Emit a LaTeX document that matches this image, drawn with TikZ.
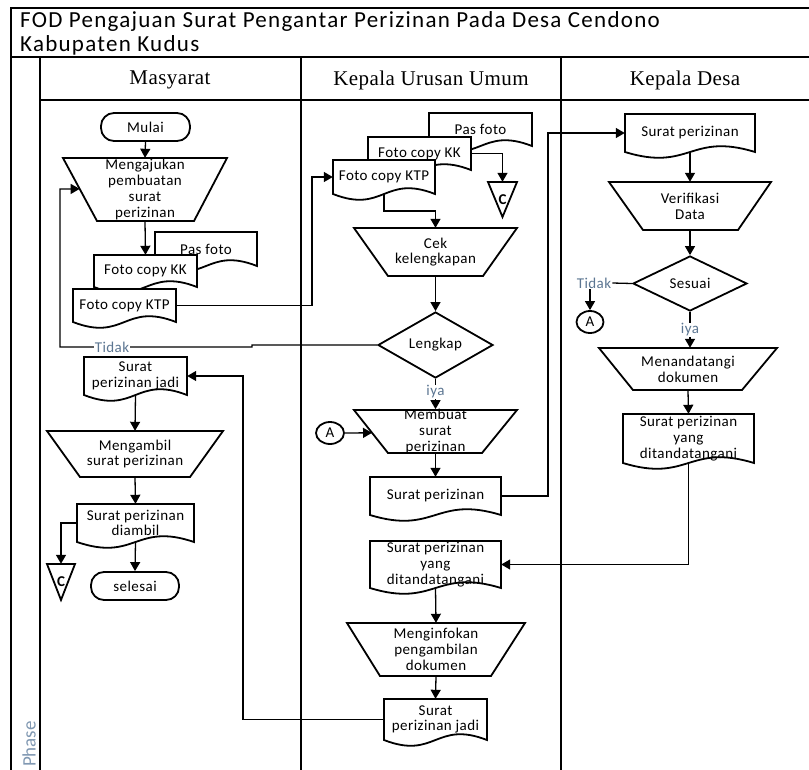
\documentclass[tikz,border=0pt]{standalone}
\usepackage{fontspec}
\setmainfont{Carlito}
\newfontfamily\titlefont[LetterSpace=5.5]{Carlito}
\newfontfamily\boxfont[LetterSpace=3]{Carlito}
\newfontfamily\lanefont[LetterSpace=2]{Liberation Serif}
\usetikzlibrary{arrows.meta,shapes.geometric,calc}

\definecolor{labelblue}{HTML}{5C7692}
\definecolor{phaseblue}{HTML}{8098B2}

\tikzset{
  frame/.style={line width=1.5pt, draw=black},
  shapeline/.style={line width=1.8pt, draw=black, fill=white},
  txt/.style={font=\boxfont\fontsize{15}{15.7}\selectfont, align=center, inner sep=0pt},
  conn/.style={line width=1.3pt, -{Triangle[length=9pt,width=10pt]}},
  plain/.style={line width=1.3pt},
  decision/.style={diamond, shapeline, txt},
  terminal/.style={rectangle, rounded corners=13pt, shapeline, txt},
  joiner/.style={ellipse, shapeline, txt},
  lanehead/.style={font=\lanefont\fontsize{21}{23}\selectfont, inner sep=0pt},
  titletext/.style={anchor=base west, font=\titlefont\fontsize{23}{24}\selectfont, inner sep=0pt},
  branch/.style={txt, text=labelblue, fill=white, inner sep=1pt},
}

% document symbol: name, left x, top y, right x, wave base y, text
\newcommand{\flowdoc}[6]{%
  \pgfmathsetmacro\fdmid{(#2+#4)/2}%
  \pgfmathsetmacro\fdcy{(#3+#5)/2}%
  \pgfmathsetmacro\fdw{#4-#2}%
  \pgfmathsetmacro\fdh{#5-#3}%
  \filldraw[shapeline] (#2,#3) -- (#4,#3) -- (#4,#5)
     .. controls (\fdmid,#5-20) and (\fdmid,#5+20) .. (#2,#5) -- cycle;
  \node[txt, minimum width=\fdw pt, minimum height=\fdh pt] (#1) at (\fdmid,\fdcy) {#6};
}

% manual operation: name, top-left x, top-right x, top y, bottom-left x, bottom-right x, bottom y, text
\newcommand{\flowtrap}[8]{%
  \filldraw[shapeline] (#2,#4) coordinate (#1-tl) -- (#3,#4) -- (#6,#7) -- (#5,#7) coordinate (#1-bl) -- cycle;
  \pgfmathsetmacro\ftx{(#2+#3)/2}%
  \pgfmathsetmacro\fty{(#4+#7)/2}%
  \pgfmathsetmacro\ftw{#3-#2}%
  \pgfmathsetmacro\fth{#7-#4}%
  \node[txt, minimum width=\ftw pt, minimum height=\fth pt] (#1) at (\ftx,\fty) {#8};
}

% off-page reference: name, left x, right x, top y, bottom y, letter
\newcommand{\flowoff}[6]{%
  \pgfmathsetmacro\fox{(#2+#3)/2}%
  \pgfmathsetmacro\foy{(#4+#5)/2}%
  \pgfmathsetmacro\fow{#3-#2}%
  \pgfmathsetmacro\foh{#5-#4}%
  \filldraw[shapeline] (#2,#4) -- (#3,#4) -- (\fox,#5) -- cycle;
  \node[txt, font=\boxfont\fontsize{15}{15.7}\selectfont\bfseries, minimum width=\fow pt, minimum height=\foh pt] (#1) at (\fox,\foy) {#6};
}

\begin{document}
\begin{tikzpicture}[x=1pt, y=-1pt]
\fill[white] (0,0) rectangle (809,769);
\useasboundingbox (0,0) rectangle (809,769);

% swimlane frame
\draw[frame] (11,772) -- (11,8) -- (812,8);
\draw[frame] (11,57) -- (812,57);
\draw[frame] (40,100) -- (812,100);
\draw[frame] (40,57) -- (40,772);
\draw[frame] (301,57) -- (301,772);
\draw[frame] (561,57) -- (561,772);

% title and lane headings
\node[titletext] (title1) at (20,27) {FOD Pengajuan Surat Pengantar Perizinan Pada Desa Cendono};
\node[titletext] (title2) at (20,51) {Kabupaten Kudus};
\node[lanehead] (laneA) at (170,80) {Masyarat};
\node[lanehead] (laneB) at (431,80) {Kepala Urusan Umum};
\node[lanehead] (laneC) at (685,80) {Kepala Desa};
\node[rotate=90, anchor=east, font=\fontsize{19}{19}\selectfont, text=phaseblue, inner sep=0pt] (phase) at (29,721) {Phase};

% lane: Masyarat
\node[terminal, minimum width=89pt, minimum height=28pt] (mulai) at (145.5,127) {Mulai};
\flowtrap{ajukan}{63}{227}{158}{97}{194}{221}{Mengajukan\\pembuatan\\surat\\perizinan}
\flowdoc{pas1}{155}{232}{257}{266}{Pas foto}
\flowdoc{kk1}{94}{255}{197}{287}{Foto copy KK}
\flowdoc{ktp1}{73}{289}{176}{322}{Foto copy KTP}
\flowdoc{jadi1}{84}{357}{187}{395}{Surat\\perizinan jadi}
\flowtrap{ambil}{47}{223}{431}{80}{190}{477}{Mengambil\\surat perizinan}
\flowdoc{diambil}{77}{504}{194}{542}{Surat perizinan\\diambil}
\flowoff{offc2}{47}{75}{564}{600}{C}
\node[terminal, minimum width=88pt, minimum height=28pt] (selesai) at (135,586) {selesai};

% lane: Kepala Urusan Umum
\flowdoc{pas2}{429}{113}{532}{146}{Pas foto}
\flowdoc{kk2}{368}{137}{471}{170}{Foto copy KK}
\flowdoc{ktp2}{333}{160}{435}{194}{Foto copy KTP}
\flowoff{offc1}{488}{517}{182}{217}{C}
\flowtrap{cek}{354}{517}{228}{388}{483}{276}{Cek\\kelengkapan}
\node[decision, minimum width=115pt, minimum height=56pt] (lengkap) at (435.5,345) {Lengkap};
\flowtrap{buat}{354}{517}{410}{388}{482}{453}{Membuat\\surat\\perizinan}
\node[joiner, minimum width=28pt, minimum height=22pt] (conA1) at (330,433) {A};
\flowdoc{surat1}{370}{477}{501}{515}{Surat perizinan}
\flowdoc{surat2}{370}{541}{501}{588}{Surat perizinan\\yang\\ditandatangani}
\flowtrap{info}{347}{525}{623}{380}{491}{676}{Menginfokan\\pengambilan\\dokumen}
\flowdoc{jadi2}{384}{699}{487}{740}{Surat\\perizinan jadi}

% lane: Kepala Desa
\flowdoc{sk1}{625}{114}{755}{152}{Surat perizinan}
\flowtrap{verif}{609}{771}{182}{643}{738}{230}{Verifikasi\\Data}
\node[decision, minimum width=114pt, minimum height=55pt] (sesuai) at (690,283.5) {Sesuai};
\node[joiner, minimum width=27pt, minimum height=22pt] (conA2) at (590,322) {A};
\flowtrap{tanda}{599}{777}{348}{633}{742}{390}{Menandatangi\\dokumen}
\flowdoc{sk2}{623}{414}{754}{463}{Surat perizinan\\yang\\ditandatangani}

% connectors
\draw[conn] (mulai.south) -- (ajukan.north);
\draw[conn] (ajukan.south) -- (kk1.north);
\draw[conn] (ktp1.east) -| (312,250) |- (ktp2.west);
\draw[conn] (lengkap.west) -- (252,345) -- (252,347) -- (60,347) -- (60,189) -- ($(ajukan-tl)!0.49!(ajukan-bl)$);
\node[branch] (tidak1) at (112,347) {Tidak};
\draw[conn] (kk2.east) -| (offc1.north);
\draw[conn] (ktp2.south) |- (435.5,211) -- (cek.north);
\draw[conn] (cek.south) -- (lengkap.north);
\draw[conn] (lengkap.south) -- (buat.north);
\node[branch] (iya1) at (435.5,392) {iya};
\draw[conn] (conA1.east) -- ($(buat-tl)!0.53!(buat-bl)$);
\draw[conn] (buat.south) -- (surat1.north);
\draw[conn] (surat1.east) -| (548,300) |- (sk1.west);
\draw[conn] (sk1.south) -- (verif.north);
\draw[conn] (verif.south) -- (sesuai.north);
\node[branch] (tidak2) at (594,283) {Tidak};
\draw[plain] (sesuai.west) -- (tidak2.east);
\draw[conn] (conA2.north |- tidak2.south) -- (conA2.north);
\draw[conn] (sesuai.south) -- (sesuai.south |- tanda.north);
\node[branch] (iya2) at (690,330) {iya};
\draw[conn] (tanda.south) -- (sk2.north);
\draw[conn] (sk2.south) |- (surat2.east);
\draw[conn] (surat2.south) -- (info.north);
\draw[conn] (info.south) -- (jadi2.north);
\draw[conn] (jadi2.west) -| (243,500) |- (jadi1.east);
\draw[conn] (jadi1.south) -- (ambil.north);
\draw[conn] (ambil.south) -- (diambil.north);
\draw[conn] (diambil.west) -| (offc2.north);
\draw[conn] (diambil.south) -- (selesai.north);
\end{tikzpicture}
\end{document}
